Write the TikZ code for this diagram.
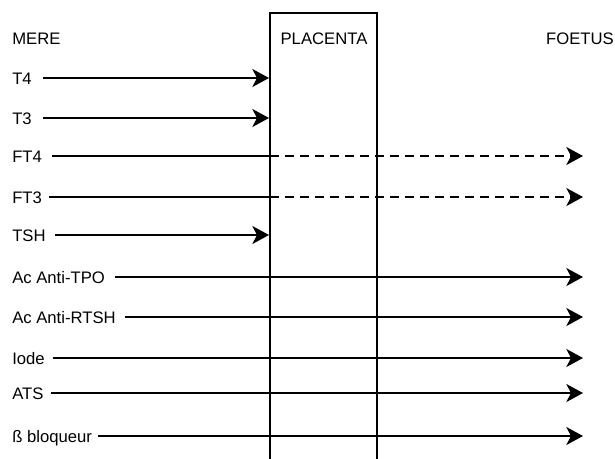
\documentclass[tikz,border=0pt]{standalone}
\usepackage{fontspec}
\setmainfont{Liberation Sans}
\usetikzlibrary{arrows.meta}
\begin{document}
\begin{tikzpicture}[x=0.75pt,y=-0.75pt,
  lbl/.style={anchor=west,inner sep=0pt,text height=9pt,text depth=0pt,font=\fontsize{12.5}{14}\selectfont},
  head/.style={lbl},
  flow/.style={line width=1.5pt,-{Stealth[length=12.5pt,width=13.5pt,inset=3.5pt]}},
  seg/.style={line width=1.5pt},
  dashflow/.style={flow,dash pattern=on 6.75pt off 4.5pt}]
\useasboundingbox (0,0) rectangle (615,458);

% placenta band, open at the bottom
\coordinate (pbl) at (270,460);
\coordinate (ptl) at (270,13);
\coordinate (ptr) at (377,13);
\coordinate (pbr) at (377,460);
\draw[line width=1.1pt] (pbl) -- (ptl) -- (ptr) -- (pbr);

% column headings
\node[head] (mere) at (12,38) {MERE};
\node[head,anchor=center] (plac) at (324,38) {PLACENTA};
\node[head,anchor=east] (foet) at (614,38) {FOETUS};

% row labels
\node[lbl] (t4)   at (12,78)  {T4};
\node[lbl] (t3)   at (12,118) {T3};
\node[lbl] (ft4)  at (12,156) {FT4};
\node[lbl] (ft3)  at (12,197) {FT3};
\node[lbl] (tsh)  at (12,235) {TSH};
\node[lbl] (tpo)  at (12,277) {Ac Anti-TPO};
\node[lbl] (rtsh) at (12,317) {Ac Anti-RTSH};
\node[lbl] (iode) at (12,358) {Iode};
\node[lbl] (ats)  at (12,393) {ATS};
\node[lbl] (beta) at (12,436) {ß bloqueur};

% line start points
\coordinate (s1)  at (43,78);
\coordinate (s2)  at (43,118);
\coordinate (s3)  at (52,156);
\coordinate (s4)  at (49,197);
\coordinate (s5)  at (55,235);
\coordinate (s6)  at (115,277);
\coordinate (s7)  at (125,317);
\coordinate (s8)  at (53,358);
\coordinate (s9)  at (51,393);
\coordinate (s10) at (98,436);

% stopped at the placenta
\coordinate (e1) at (269,78);
\coordinate (e2) at (269,118);
\coordinate (e5) at (269,235);
\draw[flow] (s1) -- (e1);
\draw[flow] (s2) -- (e2);
\draw[flow] (s5) -- (e5);

% partial passage (free fractions)
\coordinate (m3) at (270,156);
\coordinate (m4) at (270,197);
\coordinate (e3) at (583,156);
\coordinate (e4) at (583,197);
\draw[seg] (s3) -- (m3);
\draw[dashflow] (m3) -- (e3);
\draw[seg] (s4) -- (m4);
\draw[dashflow] (m4) -- (e4);

% free passage to the foetus
\coordinate (e6)  at (583,277);
\coordinate (e7)  at (583,317);
\coordinate (e8)  at (583,358);
\coordinate (e9)  at (583,393);
\coordinate (e10) at (583,436);
\draw[flow] (s6) -- (e6);
\draw[flow] (s7) -- (e7);
\draw[flow] (s8) -- (e8);
\draw[flow] (s9) -- (e9);
\draw[flow] (s10) -- (e10);
\end{tikzpicture}
\end{document}
